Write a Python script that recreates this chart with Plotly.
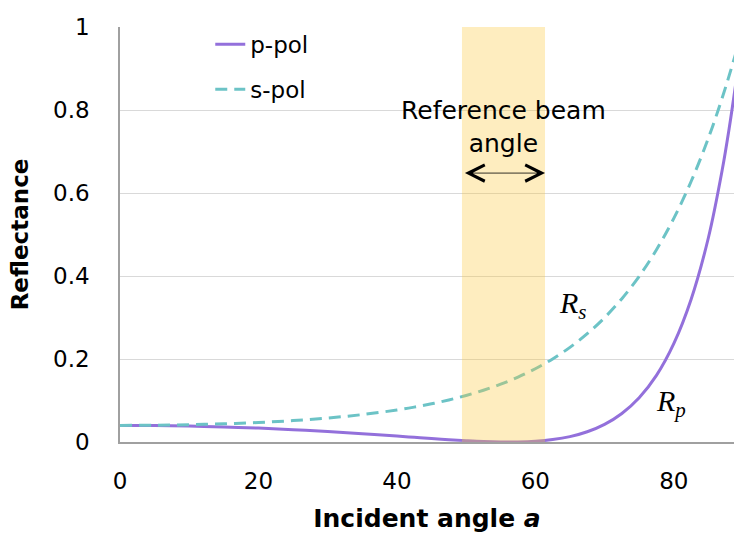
import plotly.graph_objects as go

# Incident angle (deg)
angle = [0, 5, 10, 15, 20, 25, 30, 35, 40, 42.5, 45, 47.5, 50, 52.5, 55, 57.5, 60,
         62.5, 65, 67.5, 70, 72.5, 75, 77.5, 80, 82.5, 85, 87, 88, 89]
# p-polarised reflectance
r_p = [0.040, 0.0396, 0.0384, 0.0363, 0.0335, 0.0298, 0.0253, 0.0200, 0.0143,
       0.0114, 0.0085, 0.0057, 0.0033, 0.0013, 0.0002, 0.0002, 0.0018,
       0.0058, 0.0130, 0.0247, 0.0425, 0.0688, 0.1068, 0.1607, 0.2371,
       0.3436, 0.4922, 0.6558, 0.7553, 0.8690]
# s-polarised reflectance
r_s = [0.040, 0.0404, 0.0417, 0.0438, 0.0471, 0.0516, 0.0578, 0.0661, 0.0771,
       0.0840, 0.0920, 0.1013, 0.1121, 0.1246, 0.1393, 0.1564, 0.1766,
       0.2002, 0.2281, 0.2609, 0.2996, 0.3454, 0.3994, 0.4633, 0.5388,
       0.6277, 0.7322, 0.8293, 0.8828, 0.9395]

beam_range = [49.4, 61.4]
x_ticks = [0, 20, 40, 60, 80]
y_ticks = [0, 0.2, 0.4, 0.6, 0.8, 1]
y_ticktext = ["0", "0.2", "0.4", "0.6", "0.8", "1"]

P_COLOR = "#9370DB"
S_COLOR = "#6CC3C6"
FONT = "DejaVu Sans, Verdana, sans-serif"
SERIF = "Liberation Serif, Times New Roman, serif"

fig = go.Figure()
fig.add_trace(go.Scatter(x=angle, y=r_p, mode="lines", name="p-pol",
                         legendgroup="p", line=dict(color=P_COLOR, width=3, shape="spline",
                                                    smoothing=1)))
fig.add_trace(go.Scatter(x=angle, y=r_s, mode="lines", name="s-pol",
                         legendgroup="s",
                         line=dict(color=S_COLOR, width=3, dash="12px,7px", shape="spline",
                                   smoothing=1)))

# reference beam band (drawn above the curves, translucent)
fig.add_shape(type="rect", xref="x", yref="paper", x0=beam_range[0], x1=beam_range[1],
              y0=0, y1=1, fillcolor="rgba(253,200,60,0.33)", line=dict(width=0),
              layer="above")

# double arrow
arrow_y = 0.648
fig.add_annotation(x=beam_range[1], y=arrow_y, ax=beam_range[0], ay=arrow_y,
                   xref="x", yref="y", axref="x", ayref="y", text=" ",
                   showarrow=True, arrowhead=5, startarrowhead=5, arrowside="end+start",
                   arrowsize=4, startarrowsize=4, arrowwidth=0.8, arrowcolor="#000",
                   standoff=0, startstandoff=0, font=dict(size=10))

fig.add_annotation(x=(beam_range[0] + beam_range[1]) / 2, y=0.76, xref="x", yref="y",
                   text="Reference beam<br>angle", showarrow=False,
                   font=dict(family=FONT, size=25, color="#000"), align="center")

fig.add_annotation(x=65.5, y=0.33, xref="x", yref="y", text="<i>R<sub>s</sub></i>",
                   showarrow=False, font=dict(family=SERIF, size=30, color="#000"))
fig.add_annotation(x=79.6, y=0.094, xref="x", yref="y", text="<i>R<sub>p</sub></i>",
                   showarrow=False, font=dict(family=SERIF, size=30, color="#000"))

fig.update_layout(
    width=734, height=534,
    margin=dict(l=120, r=0, t=27, b=92),
    plot_bgcolor="white", paper_bgcolor="white",
    font=dict(family=FONT, size=23, color="#000"),
    showlegend=True,
    legend=dict(x=0.147, y=1.01, xanchor="left", yanchor="top",
                bgcolor="rgba(0,0,0,0)", font=dict(size=23), tracegroupgap=12,
                traceorder="grouped"),
    xaxis=dict(range=[0, 88.7], tickvals=x_ticks, showgrid=False, zeroline=False,
               showline=True, linecolor="#A0A0A0", linewidth=1.5, ticks="",
               ticklabelstandoff=18,
               title=dict(text="<b>Incident angle <i>a</i></b>", standoff=16,
                          font=dict(size=25))),
    yaxis=dict(range=[0, 1], tickvals=y_ticks, ticktext=y_ticktext, showgrid=True,
               gridcolor="#D9D9D9", gridwidth=1.2, zeroline=False, showline=True,
               linecolor="#A0A0A0", linewidth=1.5, ticks="", ticklabelstandoff=24,
               title=dict(text="<b>Reflectance</b>", standoff=18, font=dict(size=23))),
)

fig.write_html("out.html")
